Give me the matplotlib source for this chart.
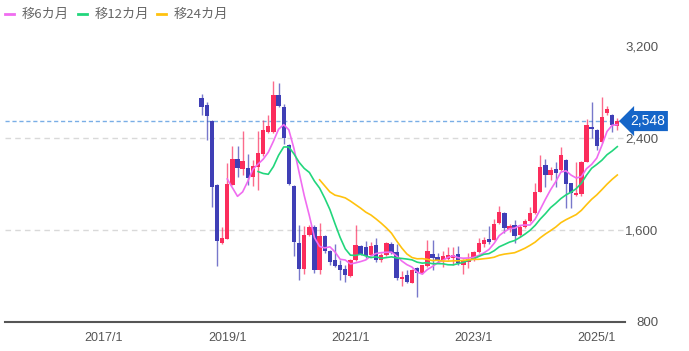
import numpy as np
import pandas as pd
import matplotlib
matplotlib.use('Agg')
import matplotlib.pyplot as plt
import matplotlib.transforms as mtransforms
from matplotlib.lines import Line2D

plt.rcParams['font.family'] = ['Liberation Sans', 'Noto Sans CJK JP', 'DejaVu Sans']

# monthly candles, 2018/8 - 2025/5
months = pd.period_range('2018-08', '2025-05', freq='M')

opens = [2750, 2690, 2545, 1990, 1485, 1525, 1995, 2215, 2130, 2140, 2065, 2150,
         2260, 2455, 2455, 2775, 2670, 2340, 1985, 1485, 1265, 1560, 1630, 1250,
         1545, 1420, 1335, 1295, 1265, 1200, 1340, 1465, 1455, 1385, 1470, 1335,
         1385, 1480, 1410, 1170, 1210, 1140, 1270, 1225, 1285, 1395, 1365, 1335,
         1350, 1355, 1390, 1300, 1320, 1340, 1410, 1480, 1520, 1515, 1660, 1750,
         1610, 1645, 1555, 1630, 1680, 1745, 1935, 2165, 2078, 2128, 2122, 2209,
         2006, 1904, 1913, 2194, 2498, 2470, 2368, 2615, 2600, 2504]
highs = [2780, 2710, 2560, 2000, 1630, 2180, 2330, 2330, 2460, 2260, 2210, 2460,
         2560, 2600, 2900, 2880, 2700, 2350, 1990, 1640, 1635, 1640, 1640, 1660,
         1560, 1430, 1480, 1340, 1300, 1345, 1640, 1470, 1505, 1500, 1530, 1400,
         1500, 1500, 1480, 1240, 1250, 1260, 1275, 1300, 1510, 1510, 1400, 1420,
         1450, 1450, 1460, 1345, 1400, 1420, 1530, 1540, 1635, 1700, 1810, 1760,
         1650, 1690, 1640, 1700, 1800, 2010, 2250, 2215, 2145, 2195, 2325, 2220,
         2010, 2195, 2200, 2563, 2716, 2480, 2759, 2678, 2610, 2571]
lows = [2600, 2380, 1800, 1290, 1480, 1520, 1990, 2060, 2080, 1990, 1980, 1950,
        2240, 2440, 2440, 2670, 2350, 1990, 1370, 1165, 1220, 1545, 1225, 1220,
        1400, 1300, 1280, 1165, 1150, 1190, 1330, 1380, 1360, 1370, 1320, 1320,
        1370, 1390, 1165, 1110, 1140, 1135, 1020, 1220, 1280, 1250, 1310, 1280,
        1340, 1300, 1300, 1215, 1270, 1330, 1400, 1455, 1480, 1510, 1650, 1570,
        1580, 1490, 1540, 1620, 1670, 1740, 1930, 1975, 2035, 1970, 2110, 1790,
        1790, 1900, 1900, 2190, 2400, 2296, 2360, 2600, 2455, 2470]
closes = [2670, 2590, 1970, 1505, 1530, 2000, 2215, 2140, 2200, 2055, 2160, 2270,
          2470, 2505, 2775, 2680, 2400, 2000, 1495, 1265, 1560, 1630, 1250, 1545,
          1415, 1325, 1290, 1250, 1210, 1340, 1470, 1395, 1375, 1460, 1335, 1385,
          1490, 1400, 1180, 1195, 1145, 1255, 1230, 1295, 1420, 1355, 1340, 1375,
          1385, 1385, 1315, 1330, 1350, 1410, 1485, 1515, 1495, 1650, 1755, 1615,
          1635, 1550, 1630, 1680, 1750, 1930, 2145, 2075, 2122, 2098, 2252, 2000,
          1919, 1924, 2194, 2513, 2476, 2330, 2585, 2650, 2513, 2548]

ma_windows = [6, 12, 24]
ma_labels = ['移6カ月', '移12カ月', '移24カ月']
ma_colors = ['#f06cf0', '#22d67c', '#ffc20e']

y_ticks = [800, 1600, 2400, 3200]
x_tick_labels = ['2017/1', '2019/1', '2021/1', '2023/1', '2025/1']

up_color = '#fb2d5c'
down_color = '#3f3fb6'

# month index counted from 2015/1
x = np.array([(p.year - 2015) * 12 + p.month - 1 for p in months])
x_ticks = [(int(s.split('/')[0]) - 2015) * 12 + int(s.split('/')[1]) - 1 for s in x_tick_labels]

o = np.array(opens)
h = np.array(highs)
l = np.array(lows)
c = np.array(closes)
up = c >= o
colors = np.where(up, up_color, down_color)

fig = plt.figure(figsize=(6.89, 3.51), dpi=100)
ax = fig.add_axes([5 / 689, 29 / 351, 620 / 689, 292 / 351])

# grid
for yv in [1600, 2400]:
    ax.axhline(yv, color='#d9d9d9', lw=1, ls=(0, (4, 3)), zorder=0)

# wicks + bodies
ax.vlines(x, l, h, colors=colors, lw=1, alpha=0.7, zorder=2)
body_h = np.maximum(np.abs(c - o), 8)
ax.bar(x, body_h, bottom=np.minimum(o, c), width=0.85, color=colors, zorder=3)

# moving averages
close_s = pd.Series(c, index=x)
for w, col in zip(ma_windows, ma_colors):
    ma = close_s.rolling(w).mean()
    ax.plot(x, ma.values, color=col, lw=1.2, zorder=4)

# last price line
last_price = closes[-1]
ax.axhline(last_price, color='#7aaee6', lw=1, ls=(0, (3, 2)), zorder=1)
trans = mtransforms.blended_transform_factory(ax.transAxes, ax.transData)
ax.text(1.008, last_price, f'{last_price:,}', transform=trans, ha='left', va='center',
        color='white', fontsize=10, clip_on=False, zorder=6,
        bbox=dict(boxstyle='larrow,pad=0.22', fc='#1565c8', ec='none'))

ax.set_xlim(4.7, 125.5)
ax.set_ylim(800, 3340)

ax.set_xticks(x_ticks)
ax.set_xticklabels(x_tick_labels)
ax.set_yticks(y_ticks)
ax.set_yticklabels([f'{v:,}' for v in y_ticks])
ax.yaxis.tick_right()
ax.tick_params(axis='y', length=0, pad=24, labelsize=9.5, labelcolor='#555555')
ax.tick_params(axis='x', length=0, pad=7, labelsize=9, labelcolor='#555555')
for lbl in ax.get_yticklabels():
    lbl.set_horizontalalignment('right')

for s in ['top', 'left', 'right']:
    ax.spines[s].set_visible(False)
ax.spines['bottom'].set_color('#555555')
ax.spines['bottom'].set_linewidth(1.5)

# legend along the top
lx = [5, 78, 157]
for xx, lab, col in zip(lx, ma_labels, ma_colors):
    fig.add_artist(Line2D([xx / 689, (xx + 9) / 689], [1 - 14 / 351] * 2,
                          color=col, lw=2, transform=fig.transFigure))
    fig.text((xx + 17) / 689, 1 - 14 / 351, lab, ha='left', va='center',
             fontsize=9.5, color='#666666', family=['Noto Sans CJK JP', 'DejaVu Sans'])

fig.savefig('out.png', dpi=100)
